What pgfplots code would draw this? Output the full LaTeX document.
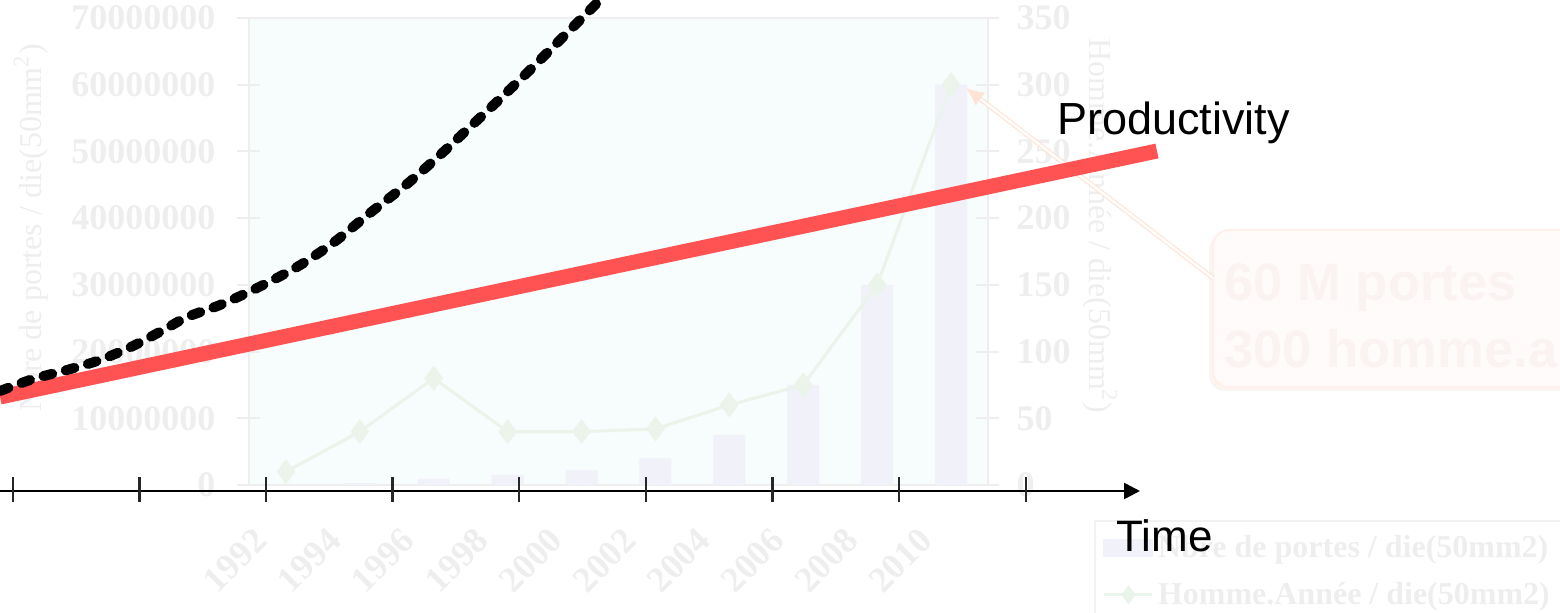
\documentclass[border=0pt]{standalone}
\usepackage{pgfplots}
\pgfplotsset{compat=1.18}
\usepackage{fontspec}
\setmainfont{Liberation Serif}
\newfontfamily\arialfont{Liberation Sans}
\usetikzlibrary{arrows.meta}
\definecolor{plotbg}{HTML}{F7FCFC}
\definecolor{barcol}{HTML}{F1F1FA}
\definecolor{greencol}{HTML}{EBF4EB}
\definecolor{ticklab}{HTML}{EEEEEE}
\definecolor{axcol}{HTML}{EEEEEE}
\definecolor{redc}{HTML}{FF5252}
\definecolor{callfill}{HTML}{FFFBFA}
\definecolor{calldraw}{HTML}{FFF1EA}
\definecolor{callshadow}{HTML}{FBF5F2}
\definecolor{calltext}{HTML}{FAF3F2}
\definecolor{pointer}{HTML}{FFE3D6}
\definecolor{legborder}{HTML}{F2F2F2}
\pgfplotsset{
  barlegend/.style={legend image code/.code={\fill[barcol] (0pt,-4pt) rectangle (24pt,4pt);}},
  linelegend/.style={legend image code/.code={
    \draw[greencol, line width=1.5pt] (0pt,0pt) -- (24pt,0pt);
    \fill[greencol] (12pt,4pt) -- (15pt,0pt) -- (12pt,-4pt) -- (9pt,0pt) -- cycle;}},
}
\begin{document}
\begin{tikzpicture}
\useasboundingbox (0,0) rectangle (780pt,306pt);
\clip (0,0) rectangle (780pt,306pt);
% ---------- background chart: bars, left axis ----------
\begin{axis}[
  at={(124.5pt,63.5pt)}, anchor=south west,
  scale only axis, width=369.5pt, height=233.5pt,
  xmin=-0.5, xmax=9.5, ymin=0, ymax=70000000,
  axis background/.style={fill=plotbg},
  axis line style={axcol, line width=1pt},
  xtick={0,1,2,3,4,5,6,7,8,9},
  xticklabels={1992,1994,1996,1998,2000,2002,2004,2006,2008,2010},
  minor xtick={-0.5,0.5,1.5,2.5,3.5,4.5,5.5,6.5,7.5,8.5,9.5},
  xtick style={draw=none},
  minor tick length=11pt, major tick length=11.5pt,
  tick align=center,
  tick style={axcol, line width=1pt},
  xtick pos=bottom, ytick pos=left,
  ytick={0,10000000,20000000,30000000,40000000,50000000,60000000,70000000},
  yticklabels={0,10000000,20000000,30000000,40000000,50000000,60000000,70000000},
  scaled y ticks=false,
  ticklabel style={font=\fontsize{18}{18}\selectfont\bfseries, text=ticklab},
  yticklabel style={xshift=-7.5pt},
  xticklabel style={rotate=45, anchor=north east, xshift=-19pt, yshift=5pt},
  ylabel={Nbre de portes / die(50mm\textsuperscript{2})},
  ylabel style={font=\fontsize{16}{16}\selectfont, text=ticklab,
    at={(axis description cs:-0.295,0.55)}, anchor=center},
  legend style={at={(axis description cs:1.1434,-0.075)}, anchor=north west,
    draw=legborder, line width=1pt, fill=none,
    font=\fontsize{16}{16}\selectfont\bfseries, text=ticklab,
    row sep=7pt, inner xsep=4pt, inner ysep=5pt},
  legend cell align=left,
]
\addlegendimage{barlegend}
\addlegendimage{linelegend}
\addplot[ybar, bar width=16pt, fill=barcol, draw=none, forget plot]
  coordinates {(0,50000)(1,300000)(2,900000)(3,1500000)(4,2200000)(5,4000000)(6,7500000)(7,15000000)(8,30000000)(9,60000000)};
\legend{Nbre de portes / die(50mm2), Homme.Année / die(50mm2)}
\end{axis}
% ---------- background chart: line, right axis ----------
\begin{axis}[
  at={(124.5pt,63.5pt)}, anchor=south west,
  scale only axis, width=369.5pt, height=233.5pt,
  xmin=-0.5, xmax=9.5, ymin=0, ymax=350,
  axis y line*=right, axis x line=none,
  axis line style={axcol, line width=1pt},
  major tick length=11.5pt, tick align=center,
  tick style={axcol, line width=1pt},
  ytick={0,50,100,150,200,250,300,350},
  yticklabels={0,50,100,150,200,250,300,350},
  ticklabel style={font=\fontsize{18}{18}\selectfont\bfseries, text=ticklab},
  yticklabel style={xshift=5pt},
  ylabel={Homme.Année / die(50mm\textsuperscript{2})},
  ylabel style={font=\fontsize{16}{16}\selectfont, text=ticklab,
    at={(axis description cs:1.1516,0.555)}, anchor=center, rotate=180},
]
\addplot[greencol, line width=1.5pt, mark=diamond*, mark size=5pt, mark options={fill=greencol}]
  coordinates {(0,10)(1,40)(2,80)(3,40)(4,40)(5,42)(6,60)(7,75)(8,150)(9,300)};
\end{axis}
% ---------- callout ----------
\begin{scope}[x=0.5pt, y=-0.5pt, yshift=306pt]
  \fill[callshadow, rounded corners=8pt] (1209,234) rectangle (1600,391);
  \filldraw[fill=callfill, draw=calldraw, line width=1pt, rounded corners=8pt] (1213,230) rectangle (1600,387);
  \node[anchor=base west, inner sep=0pt, text=calltext, font=\arialfont\bfseries\fontsize{26.3}{26.3}\selectfont] at (1224,300) {60 M portes};
  \node[anchor=base west, inner sep=0pt, text=calltext, font=\arialfont\bfseries\fontsize{26.3}{26.3}\selectfont] at (1224,367) {300 homme.an};
  \draw[pointer, line width=0.6pt, double=white, double distance=1.2pt, -{Latex[length=9pt,width=8pt]}] (1213,278) -- (966,88);
\end{scope}
% ---------- foreground ----------
\begin{axis}[
  at={(0pt,0pt)}, anchor=south west,
  scale only axis, width=780pt, height=306pt,
  xmin=0, xmax=1560, ymin=0, ymax=612, y dir=reverse,
  hide axis, clip=true,
]
\addplot[redc, line width=7.5pt] coordinates {(0,397)(1157,151)};
\addplot[black, line width=5pt, line cap=round, dash pattern=on 4.5pt off 7pt, smooth, tension=0.5]
  coordinates {(0,391)(33,379)(67,370)(100,360)(133,346)(167,328)(187,317)(220,305)(257,288)(297,267)(333,243)(370,213)(407,184)(440,155)(470,127)(502,97)(533,67)(567,33)(600,0)(620,-20)};
\end{axis}
\begin{scope}[x=0.5pt, y=-0.5pt, yshift=306pt]
  \draw[black, line width=1.2pt, -{Triangle[length=8pt,width=8pt]}] (0,491) -- (1140,491);
  \foreach \t in {12.7,139.3,265.9,392.6,519.2,645.8,772.4,899.1,1025.7}
    \draw[black!85, line width=1.2pt] (\t,477) -- (\t,502);
  \node[anchor=base west, inner sep=0pt, font=\arialfont\fontsize{22.5}{22.5}\selectfont] at (1057,135) {Productivity};
  \node[anchor=base west, inner sep=0pt, font=\arialfont\fontsize{22}{22}\selectfont] at (1116,551) {Time};
\end{scope}
\end{tikzpicture}
\end{document}
